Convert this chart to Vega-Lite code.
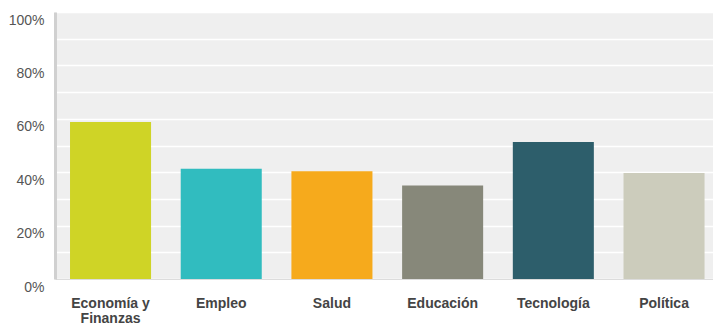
{
  "$schema": "https://vega.github.io/schema/vega-lite/v6.json",
  "width": 658,
  "height": 267,
  "autosize": {"type": "none"},
  "padding": {"left": 55, "top": 12, "right": 0, "bottom": 47},
  "background": "white",
  "view": {"fill": "#efefef", "stroke": null},
  "data": {
    "values": [
      {"tema": "Economía y Finanzas", "valor": 0.588, "color": "#cfd426"},
      {"tema": "Empleo", "valor": 0.413, "color": "#31bcbf"},
      {"tema": "Salud", "valor": 0.404, "color": "#f6aa1c"},
      {"tema": "Educación", "valor": 0.350, "color": "#87887a"},
      {"tema": "Tecnología", "valor": 0.513, "color": "#2d5e6b"},
      {"tema": "Política", "valor": 0.397, "color": "#ccccbc"}
    ]
  },
  "mark": {"type": "bar"},
  "encoding": {
    "x": {
      "field": "tema",
      "type": "nominal",
      "sort": null,
      "title": null,
      "scale": {"paddingInner": 0.268, "paddingOuter": 0.106, "align": 0.64},
      "axis": {
        "labelAngle": 0,
        "labelFont": "Liberation Sans",
        "labelFontSize": 14,
        "labelFontWeight": "bold",
        "labelColor": "#444444",
        "labelBaseline": "top",
        "labelPadding": 17,
        "labelLineHeight": 15,
        "labelExpr": "datum.value === 'Economía y Finanzas' ? ['Economía y', 'Finanzas'] : datum.value",
        "ticks": false,
        "domain": true,
        "domainColor": "#dcdcdc",
        "domainWidth": 1,
        "grid": false,
        "encode": {
          "labels": {
            "update": {
              "align": {"signal": "datum.value === 'Economía y Finanzas' ? 'left' : 'center'"},
              "dx": {"signal": "datum.value === 'Economía y Finanzas' ? -40 : 0"}
            }
          }
        }
      }
    },
    "y": {
      "field": "valor",
      "type": "quantitative",
      "title": null,
      "scale": {"domain": [0, 1], "nice": false},
      "axis": {
        "values": [0, 0.1, 0.2, 0.3, 0.4, 0.5, 0.6, 0.7, 0.8, 0.9, 1],
        "format": ".0%",
        "labelExpr": "round(datum.value * 100) % 20 === 0 ? datum.label : ''",
        "labelFont": "Liberation Sans",
        "labelFontSize": 14,
        "labelColor": "#555555",
        "labelBaseline": "top",
        "labelPadding": 11,
        "labelOffset": 1,
        "ticks": false,
        "domain": true,
        "domainColor": "#d0d0d0",
        "domainWidth": 3,
        "grid": true,
        "gridColor": "#ffffff",
        "gridWidth": 1.5,
        "gridOpacity": 1
      }
    },
    "color": {"field": "color", "type": "nominal", "scale": null, "legend": null}
  }
}
